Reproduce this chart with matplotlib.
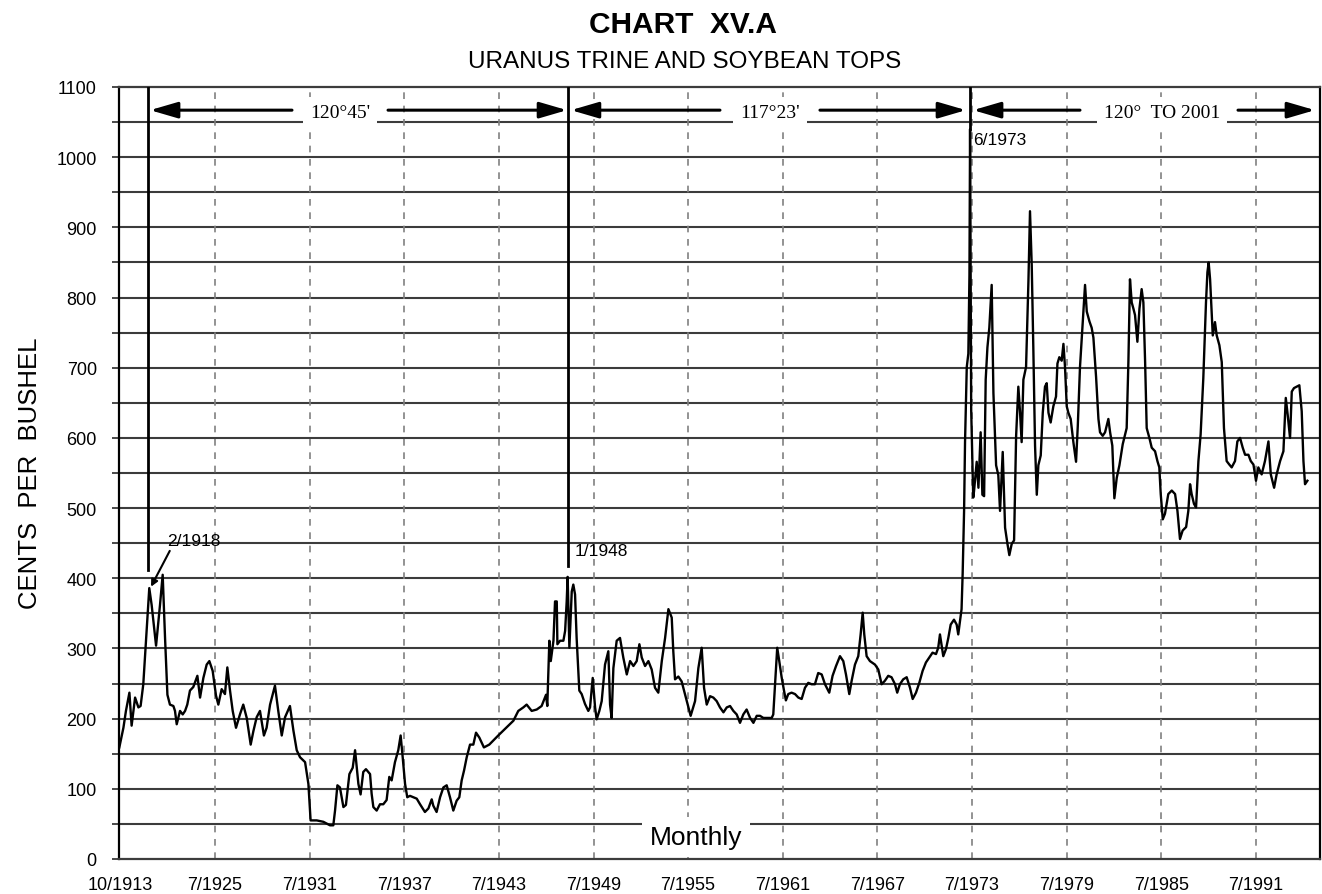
import matplotlib
matplotlib.use('Agg')
import matplotlib.pyplot as plt
from matplotlib.ticker import MultipleLocator

plt.rcParams['font.family'] = ['Liberation Sans', 'DejaVu Sans']

# monthly soybean price (x = position on the chart's year scale)
dates = [
    1919.43, 1919.69, 1919.85, 1920.07, 1920.21, 1920.43, 1920.64, 1920.78, 1920.95, 1921.12,
    1921.33, 1921.48, 1921.76, 1922.01, 1922.18, 1922.33, 1922.48, 1922.64, 1922.86, 1922.96,
    1923.07, 1923.28, 1923.45, 1923.6, 1923.74, 1923.91, 1924.12, 1924.38, 1924.55, 1924.76,
    1924.97, 1925.14, 1925.35, 1925.56, 1925.71, 1925.92, 1926.13, 1926.28, 1926.45, 1926.62,
    1926.83, 1927.08, 1927.29, 1927.51, 1927.76, 1927.93, 1928.14, 1928.35, 1928.6, 1928.77,
    1928.99, 1929.3, 1929.51, 1929.73, 1929.94, 1930.25, 1930.47, 1930.68, 1930.89, 1931.21,
    1931.42, 1931.56, 1931.95, 1932.37, 1932.79,
    1933.0, 1933.11, 1933.26, 1933.42, 1933.64, 1933.8, 1934.02, 1934.23, 1934.38, 1934.59,
    1934.73, 1934.9, 1935.07, 1935.22, 1935.33, 1935.43, 1935.54, 1935.75, 1935.96, 1936.17,
    1936.38, 1936.55, 1936.7, 1936.91, 1937.12, 1937.27, 1937.4, 1937.55, 1937.69, 1937.86,
    1938.07, 1938.29, 1938.5, 1938.81, 1939.03, 1939.24, 1939.34, 1939.55, 1939.77, 1939.98,
    1940.19, 1940.4, 1940.61, 1940.82, 1940.99, 1941.14, 1941.29, 1941.46, 1941.67, 1941.88,
    1942.05, 1942.26, 1942.55, 1942.89, 1943.15, 1943.46, 1943.78, 1944.1, 1944.42, 1944.73,
    1945.05, 1945.26, 1945.58, 1945.9, 1946.21, 1946.49, 1946.57,
    1946.7, 1946.79, 1946.96, 1947.06, 1947.17, 1947.21, 1947.38, 1947.59, 1947.7, 1947.8,
    1947.86, 1947.97, 1948.12, 1948.22, 1948.33, 1948.43, 1948.6, 1948.75, 1948.96, 1949.17,
    1949.28, 1949.45, 1949.6, 1949.7, 1949.87, 1950.02, 1950.23, 1950.44, 1950.55, 1950.65,
    1950.76, 1950.97, 1951.18, 1951.39, 1951.61, 1951.82, 1952.03, 1952.24, 1952.41, 1952.56,
    1952.77, 1952.98, 1953.19, 1953.4, 1953.61, 1953.83, 1954.04, 1954.25, 1954.46, 1954.56,
    1954.67, 1954.88, 1955.09, 1955.3, 1955.52, 1955.66, 1955.94, 1956.15, 1956.36, 1956.51,
    1956.68, 1956.89, 1957.1, 1957.31, 1957.52, 1957.74, 1957.95, 1958.16, 1958.37, 1958.58,
    1958.79, 1959.0, 1959.21, 1959.43, 1959.64, 1959.85, 1960.06, 1960.27, 1960.48, 1960.8,
    1960.9, 1961.01, 1961.15, 1961.28, 1961.43, 1961.58, 1961.7, 1961.85, 1962.06, 1962.28,
    1962.49, 1962.7, 1962.91, 1963.12, 1963.33, 1963.54, 1963.75, 1963.97, 1964.18, 1964.45,
    1964.66, 1964.88, 1965.13, 1965.34, 1965.51, 1965.72, 1965.87, 1966.08, 1966.29, 1966.44,
    1966.57, 1966.67, 1966.82, 1967.03, 1967.35, 1967.56, 1967.77, 1967.98, 1968.19, 1968.4,
    1968.62, 1968.76, 1968.93, 1969.14, 1969.36, 1969.57, 1969.74, 1969.95, 1970.16, 1970.37,
    1970.58, 1970.79, 1971.0, 1971.22, 1971.36, 1971.47, 1971.58, 1971.68, 1971.85, 1972.0,
    1972.15, 1972.36, 1972.53, 1972.63, 1972.74, 1972.84,
    1972.91, 1973.0, 1973.06, 1973.17, 1973.27, 1973.34, 1973.38, 1973.45, 1973.58, 1973.63,
    1973.8, 1973.91, 1974.05, 1974.16, 1974.27, 1974.37, 1974.48, 1974.6, 1974.75, 1974.86,
    1975.03, 1975.17, 1975.28, 1975.45, 1975.6, 1975.75, 1975.87, 1976.02, 1976.17, 1976.3,
    1976.44, 1976.55, 1976.65, 1976.76, 1976.93, 1977.08, 1977.18, 1977.29, 1977.39, 1977.5,
    1977.61, 1977.71, 1977.86, 1977.99, 1978.13, 1978.24, 1978.35, 1978.49, 1978.66, 1978.83,
    1978.92, 1979.04, 1979.19, 1979.3, 1979.4, 1979.51, 1979.61, 1979.76, 1979.93, 1980.1,
    1980.21, 1980.35, 1980.52, 1980.67, 1980.78, 1980.95, 1981.09, 1981.2, 1981.37, 1981.52,
    1981.62, 1981.79, 1981.94, 1982.15, 1982.26, 1982.4, 1982.53, 1982.68, 1982.85,
    1983.06, 1983.21, 1983.31, 1983.42, 1983.52, 1983.63, 1983.74, 1983.84, 1983.99, 1984.12,
    1984.26, 1984.37, 1984.48, 1984.58, 1984.75, 1984.9, 1985.11, 1985.26, 1985.38, 1985.47,
    1985.6, 1985.74, 1985.95, 1986.17, 1986.38, 1986.53, 1986.69, 1986.86, 1987.08, 1987.22,
    1987.33, 1987.43, 1987.58, 1987.71, 1987.86, 1988.0, 1988.17, 1988.34, 1988.43, 1988.51,
    1988.6, 1988.77, 1988.91, 1989.02, 1989.19, 1989.34, 1989.48, 1989.65, 1989.82, 1989.97,
    1990.18, 1990.33, 1990.5, 1990.67, 1990.82, 1991.03, 1991.18, 1991.35, 1991.51, 1991.66,
    1991.87, 1992.08, 1992.3, 1992.45, 1992.66, 1992.82, 1993.04, 1993.25, 1993.4, 1993.52,
    1993.67, 1993.78, 1993.92, 1994.09, 1994.26, 1994.41, 1994.52, 1994.62, 1994.77,
]
cents = [
    159, 187, 211, 237, 190, 230, 216, 218, 249, 311,
    386, 362, 304, 362, 405, 315, 234, 220, 218, 211,
    192, 211, 206, 211, 220, 240, 245, 261, 230, 258,
    277, 282, 268, 233, 220, 242, 235, 273, 240, 211,
    187, 206, 220, 201, 163, 182, 202, 211, 176, 187,
    220, 247, 211, 176, 202, 218, 183, 155, 145, 138,
    107, 55, 55, 53, 48,
    48, 69, 105, 102, 74, 77, 121, 130, 155, 107,
    92, 124, 128, 124, 121, 93, 74, 69, 78, 78,
    84, 117, 112, 138, 155, 176, 145, 107, 88, 90,
    88, 86, 78, 67, 72, 85, 76, 67, 88, 102,
    105, 88, 69, 83, 88, 112, 126, 145, 163, 163,
    180, 173, 159, 163, 169, 176, 183, 190, 197, 211,
    216, 220, 211, 213, 218, 234, 218,
    311, 282, 311, 367, 367, 306, 311, 311, 325, 367,
    402, 301, 381, 391, 377, 315, 240, 235, 221, 211,
    216, 258, 216, 199, 211, 225, 277, 296, 220, 201,
    272, 311, 315, 287, 263, 282, 275, 282, 306, 287,
    275, 282, 270, 244, 237, 282, 315, 356, 344, 296,
    256, 260, 253, 235, 216, 204, 225, 272, 301, 244,
    220, 232, 230, 225, 216, 209, 216, 218, 211, 206,
    194, 206, 213, 201, 194, 204, 204, 201, 201, 201,
    206, 249, 301, 282, 259, 240, 226, 235, 237, 235,
    230, 228, 244, 251, 249, 249, 265, 263, 249, 237,
    261, 275, 289, 282, 263, 235, 254, 277, 289, 320,
    351, 320, 289, 282, 277, 270, 249, 254, 261, 259,
    249, 237, 249, 256, 259, 244, 228, 237, 251, 268,
    280, 287, 294, 292, 301, 320, 304, 289, 299, 315,
    334, 341, 334, 320, 339, 356,
    407, 496, 594, 701, 720, 832, 1040, 640, 515, 524,
    566, 529, 608, 519, 517, 683, 729, 757, 818, 664,
    561, 547, 496, 580, 472, 449, 433, 449, 454, 603,
    673, 636, 594, 683, 701, 823, 923, 846, 729, 589,
    519, 561, 575, 636, 673, 678, 636, 622, 645, 659,
    706, 715, 710, 734, 701, 645, 636, 627, 594, 566,
    617, 701, 762, 818, 780, 766, 757, 743, 687, 627,
    608, 603, 608, 627, 608, 589, 514, 543, 561,
    591, 605, 614, 709, 826, 793, 784, 775, 737, 784,
    812, 793, 708, 614, 600, 586, 581, 567, 558, 520,
    484, 492, 520, 525, 520, 496, 456, 468, 473, 496,
    534, 520, 506, 501, 567, 605, 685, 793, 836, 850,
    826, 746, 765, 746, 732, 708, 614, 567, 562, 558,
    567, 595, 600, 586, 576, 576, 567, 562, 539, 558,
    548, 567, 595, 548, 529, 548, 567, 581, 657, 633,
    600, 666, 671, 673, 675, 638, 567, 534, 539,
]

tick_pos = [1919.5, 1925.5, 1931.5, 1937.5, 1943.5, 1949.5, 1955.5,
            1961.5, 1967.5, 1973.5, 1979.5, 1985.5, 1991.5]
tick_labels = ['10/1913', '7/1925', '7/1931', '7/1937', '7/1943', '7/1949', '7/1955',
               '7/1961', '7/1967', '7/1973', '7/1979', '7/1985', '7/1991']

# tops: label, x of marker line, lower end of marker line
top_labels = ['2/1918', '1/1948', '6/1973']
top_x = [1921.23, 1947.9, 1973.38]
top_low = [412, 418, 1040]

# uranus trine spans: label, left tip, left start, label x, right start, right tip
span_labels = ["120\u00b045'", "117\u00b023'", "120\u00b0  TO 2001"]
span_left_tip = [1921.38, 1948.07, 1973.57]
span_left_start = [1930.38, 1957.52, 1980.35]
span_text_x = [1933.43, 1960.69, 1985.55]
span_right_start = [1936.47, 1963.86, 1990.37]
span_right_tip = [1947.82, 1973.12, 1995.25]
span_y = 1067

fig = plt.figure(figsize=(13.22, 8.95), dpi=100)
ax = fig.add_axes([119/1322, 35/895, 1201/1322, 772/895])
ax.set_xlim(1919.41, 1995.57)
ax.set_ylim(0, 1100)

# grid: solid every 50 cents, dashed at the date ticks
for v in range(50, 1100, 50):
    ax.axhline(v, color='#3c3c3c', lw=1.5, zorder=1)
for p in tick_pos[1:]:
    ax.axvline(p, color='#808080', lw=1.2, ls=(0, (4, 4)), zorder=1)

ax.plot(dates, cents, color='black', lw=1.7, zorder=3)

# marker lines at the tops
for lab, x, lo in zip(top_labels, top_x, top_low):
    ax.plot([x, x], [lo, 1100], color='black', lw=2, zorder=4)

ax.annotate('2/1918', xy=(1921.44, 388), xytext=(1922.45, 443), fontsize=12.5,
            ha='left', va='bottom',
            arrowprops=dict(arrowstyle='-|>', color='black', lw=1.5, mutation_scale=10,
                            shrinkA=0, shrinkB=0, relpos=(0.08, 0.0)), zorder=5)
ax.text(1948.33, 429, '1/1948', fontsize=12.5, ha='left', va='bottom', zorder=5)
ax.text(1973.57, 1014, '6/1973', fontsize=12.5, ha='left', va='bottom', zorder=5)

# arrows of the trine spans
head = dict(arrowstyle='-|>,head_length=1.2,head_width=0.35', color='black', lw=2.2,
            mutation_scale=14, shrinkA=0, shrinkB=0)
for i, lab in enumerate(span_labels):
    ax.annotate('', xy=(span_left_tip[i], span_y), xytext=(span_left_start[i], span_y),
                arrowprops=head, zorder=5)
    ax.annotate('', xy=(span_right_tip[i], span_y), xytext=(span_right_start[i], span_y),
                arrowprops=head, zorder=5)
    ax.text(span_text_x[i], span_y - 3, lab, fontsize=14, family=['Liberation Serif', 'DejaVu Serif'],
            ha='center', va='center', zorder=6,
            bbox=dict(boxstyle='square,pad=0.35', fc='white', ec='none'))

ax.text(1956.0, 31, 'Monthly', fontsize=19, ha='center', va='center', zorder=6,
        bbox=dict(boxstyle='square,pad=0.3', fc='white', ec='none'))

# axes
ax.set_xticks(tick_pos)
ax.set_xticklabels(tick_labels)
ax.tick_params(axis='x', length=0, pad=12, labelsize=13)
ax.yaxis.set_major_locator(MultipleLocator(100))
ax.yaxis.set_minor_locator(MultipleLocator(50))
ax.tick_params(axis='y', which='both', length=5, width=1.3, color='#3c3c3c', pad=11, labelsize=13)
for s in ['left', 'right']:
    ax.spines[s].set_linewidth(1.6)
    ax.spines[s].set_color('black')
for s in ['top', 'bottom']:
    ax.spines[s].set_linewidth(1.6)
    ax.spines[s].set_color('#3c3c3c')

fig.text(0.5166, 0.972, 'CHART  XV.A', fontsize=21.5, fontweight='bold', ha='center', va='center')
fig.text(0.518, 0.931, 'URANUS TRINE AND SOYBEAN TOPS', fontsize=17.5, ha='center', va='center')
fig.text(0.0227, 0.4715, 'CENTS  PER  BUSHEL', fontsize=18.5, rotation=90, ha='center', va='center')

fig.savefig('out.png', dpi=100)
